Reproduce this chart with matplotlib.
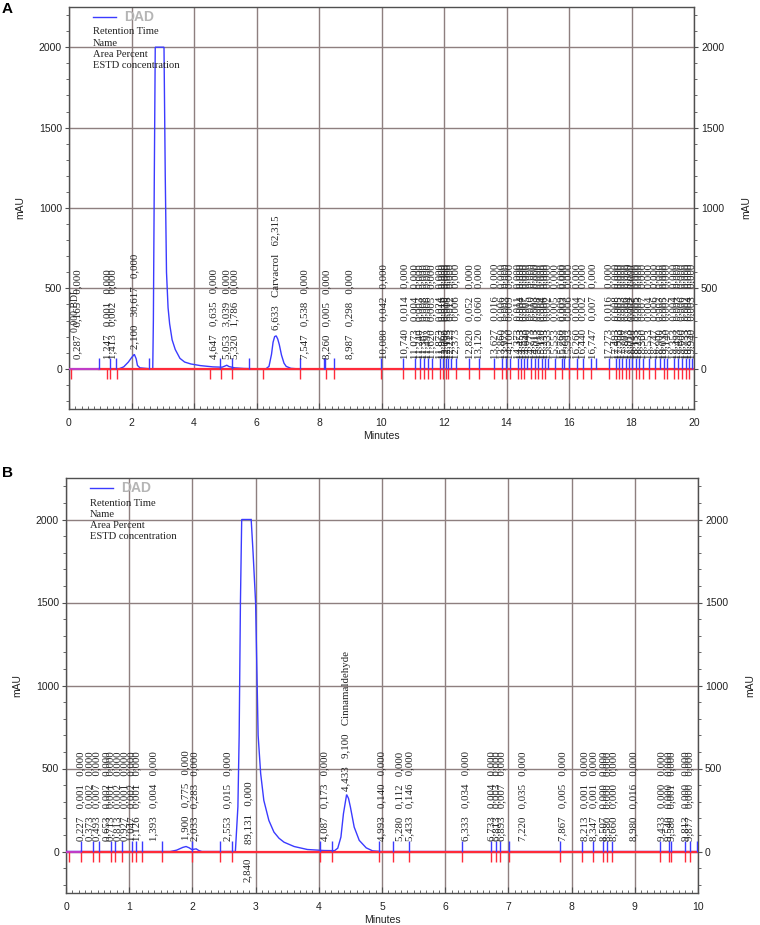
import numpy as np
import matplotlib
matplotlib.use("Agg")
import matplotlib.pyplot as plt
from matplotlib.ticker import MultipleLocator

# ---------------- Panel A : chromatogram (minutes, mAU) ----------------
a_time = [0.00, 1.60, 1.75, 1.90, 2.00, 2.09, 2.15, 2.19, 2.27, 2.60,
          2.68, 2.70, 2.73, 2.76, 3.04, 3.08, 3.12, 3.17, 3.22, 3.30,
          3.40, 3.55, 3.70, 3.90, 4.20, 4.60, 4.90, 5.00, 5.05, 5.12,
          5.30, 5.60, 6.00, 6.30, 6.40, 6.48, 6.53, 6.58, 6.63, 6.68,
          6.73, 6.80, 6.88, 6.95, 7.10, 7.30, 20.0]
a_signal = [0, 0, 12, 42, 69, 90, 62, 21, 6, 0,
            0, 300, 1200, 2000, 2000, 1200, 600, 380, 280, 180,
            120, 65, 42, 30, 20, 12, 10, 18, 22, 14,
            6, 2, 0, 0, 15, 90, 165, 200, 205, 185,
            150, 85, 35, 15, 3, 0, 0]

a_blue_ticks = [0.95, 1.31, 1.50, 2.56, 4.84, 5.22, 5.76, 7.40, 8.15, 8.20, 8.49,
                9.97, 10.68, 11.07, 11.22, 11.35, 11.49, 11.62, 11.87, 11.97, 12.06,
                12.13, 12.21, 12.37, 12.79, 13.11, 13.59, 13.86, 13.97, 14.10, 14.37,
                14.45, 14.55, 14.64, 14.77, 14.91, 15.01, 15.12, 15.23, 15.33, 15.55,
                15.76, 15.83, 15.99, 16.26, 16.44, 16.69, 16.87, 17.27, 17.49, 17.59,
                17.70, 17.81, 17.91, 18.02, 18.13, 18.23, 18.36, 18.55, 18.75, 18.90,
                19.03, 19.14, 19.35, 19.49, 19.60, 19.73, 19.83, 19.94]
a_red_ticks = [0.05, 1.23, 1.31, 1.54, 4.52, 4.87, 5.22, 6.22, 7.40, 8.22, 8.49,
               9.97, 10.68, 11.07, 11.22, 11.35, 11.49, 11.62, 11.87, 11.97, 12.06,
               12.13, 12.37, 12.79, 13.11, 13.59, 13.86, 13.97, 14.10, 14.37, 14.45,
               14.55, 14.77, 14.91, 15.01, 15.12, 15.23, 15.55, 15.76, 15.99, 16.26,
               16.44, 16.69, 17.27, 17.49, 17.59, 17.70, 17.81, 17.91, 18.13, 18.23,
               18.36, 18.55, 18.75, 19.03, 19.14, 19.35, 19.49, 19.60, 19.73, 19.83]

a_peak_rt = [0.287, 1.247, 1.413, 2.100, 4.647, 5.053, 5.320, 6.633, 7.547, 8.260,
             8.987, 10.080, 10.740, 11.073, 11.240, 11.367, 11.493, 11.620, 11.873,
             11.967, 12.060, 12.133, 12.213, 12.373, 12.820, 13.120, 13.627, 13.860,
             13.973, 14.100, 14.373, 14.453, 14.553, 14.640, 14.773, 14.913, 15.013,
             15.120, 15.233, 15.333, 15.553, 15.760, 15.833, 15.993, 16.260, 16.440,
             16.747, 17.273, 17.493, 17.593, 17.700, 17.807, 17.913, 18.020, 18.133,
             18.233, 18.360, 18.553, 18.747, 18.900, 19.033, 19.140, 19.353, 19.493,
             19.600, 19.733, 19.833, 19.940]
a_peak_name = [""] * 7 + ["Carvacrol"] + [""] * 60
a_peak_area = [0.165, 0.001, 0.002, 30.617, 0.635, 3.039, 1.786, 62.315, 0.538, 0.005,
               0.298, 0.042, 0.014, 0.004, 0.003, 0.008, 0.006, 0.005, 0.024,
               0.016, 0.010, 0.008, 0.012, 0.006, 0.052, 0.060, 0.016, 0.006,
               0.003, 0.009, 0.011, 0.004, 0.007, 0.005, 0.010, 0.003, 0.008,
               0.004, 0.006, 0.002, 0.005, 0.009, 0.003, 0.006, 0.004, 0.002,
               0.007, 0.016, 0.008, 0.005, 0.003, 0.006, 0.004, 0.002, 0.005,
               0.003, 0.007, 0.004, 0.006, 0.003, 0.005, 0.002, 0.004, 0.003,
               0.006, 0.002, 0.004, 0.003]
a_peak_estd = [0.0] * 7 + [np.nan] + [0.0] * 60
a_note_rt = [0.20]
a_note_text = ["0,000 BDL"]

# ---------------- Panel B ----------------
b_time = [0.00, 1.65, 1.75, 1.85, 1.90, 1.95, 1.99, 2.03, 2.06, 2.10,
          2.15, 2.66, 2.68, 2.72, 2.74, 2.76, 2.78, 2.93, 2.96, 3.00,
          3.04, 3.08, 3.13, 3.21, 3.29, 3.37, 3.45, 3.61, 3.82, 4.08,
          4.25, 4.30, 4.35, 4.39, 4.44, 4.47, 4.50, 4.56, 4.64, 4.75,
          4.85, 5.00, 10.0]
b_signal = [0, 0, 8, 25, 30, 22, 12, 14, 16, 6,
            0, 0, 0, 270, 700, 1500, 2000, 2000, 1800, 1500,
            700, 470, 308, 187, 117, 80, 56, 30, 12, 6,
            5, 20, 87, 228, 343, 320, 268, 147, 67, 22,
            4, 0, 0]

b_blue_ticks = [0.24, 0.43, 0.53, 0.71, 0.77, 0.88, 1.04, 1.11, 1.20, 1.52, 1.99,
                2.43, 2.62, 4.02, 4.21, 4.96, 5.18, 5.42, 6.27, 6.73, 6.81, 6.87,
                7.01, 7.82, 8.17, 8.34, 8.50, 8.56, 8.64, 9.40, 9.54, 9.58, 9.80,
                9.88, 9.99]
b_red_ticks = [0.05, 0.24, 0.43, 0.53, 0.71, 0.77, 0.88, 1.04, 1.11, 1.20, 1.52,
               1.99, 2.43, 2.62, 4.02, 4.21, 4.96, 5.18, 5.42, 6.27, 6.73, 6.81,
               6.87, 7.01, 7.82, 8.17, 8.34, 8.50, 8.56, 8.64, 9.40, 9.54, 9.58,
               9.80, 9.88]

b_peak_rt = [0.227, 0.373, 0.493, 0.653, 0.713, 0.813, 0.927, 1.047, 1.126, 1.393,
             1.900, 2.033, 2.553, 2.840, 4.087, 4.433, 4.993, 5.280, 5.433, 6.333,
             6.733, 6.813, 6.893, 7.220, 7.867, 8.213, 8.347, 8.507, 8.580, 8.660,
             8.980, 9.433, 9.540, 9.580, 9.813, 9.877]
b_peak_name = [""] * 15 + ["Cinnamaldehyde"] + [""] * 20
b_peak_area = [0.001, 0.002, 0.007, 0.002, 0.001, 0.002, 0.001, 0.002, 0.001, 0.004,
               0.775, 0.283, 0.015, 89.131, 0.173, 9.100, 0.140, 0.112, 0.146, 0.034,
               0.004, 0.003, 0.007, 0.035, 0.005, 0.001, 0.001, 0.000, 0.000, 0.000,
               0.016, 0.000, 0.000, 0.001, 0.000, 0.000]
b_peak_estd = [0.0] * 15 + [np.nan] + [0.0] * 20

legend_lines = ["Retention Time", "Name", "Area Percent", "ESTD concentration"]

# ---------------- styling ----------------
TRACE = "#3b3bff"
RED = "#ff2b3a"
GRID = "#8e7f7f"
SPINE = "#505050"
TXT = "#222222"
SANS = "Liberation Sans"
SERIF = "Liberation Serif"
YMIN, YMAX = -250, 2250
SAT = 2000
SEP = "   "
FIG_W, FIG_H = 760, 925


def fmt(v):
    return f"{v:.3f}".replace(".", ",")


def draw_panel(ax, t, s, blue, red, rts, names, areas, estds, name_first,
               xmax, xmajor, xminor, letter):
    ax.set_xlim(0, xmax)
    ax.set_ylim(YMIN, YMAX)
    ax.xaxis.set_major_locator(MultipleLocator(xmajor))
    ax.xaxis.set_minor_locator(MultipleLocator(xminor))
    ax.yaxis.set_minor_locator(MultipleLocator(100))
    ax.set_yticks([0, 500, 1000, 1500, 2000])
    ax.grid(True, which="major", color=GRID, lw=1.0, zorder=0)
    ax.set_axisbelow(True)
    for sp in ax.spines.values():
        sp.set_color(SPINE)
        sp.set_linewidth(1.0)
    ax.tick_params(axis="y", which="major", direction="out", length=3,
                   left=True, right=True, labelleft=True, labelright=True,
                   labelsize=7.5, labelcolor=TXT, color=SPINE, pad=2)
    ax.tick_params(axis="y", which="minor", direction="out", length=2,
                   left=True, right=True, color=SPINE)
    ax.tick_params(axis="x", which="major", direction="in", length=4,
                   labelsize=7.5, labelcolor=TXT, color=SPINE, pad=6.5)
    ax.tick_params(axis="x", which="minor", direction="in", length=2.5,
                   color=SPINE)
    for lab in ax.get_xticklabels() + ax.get_yticklabels():
        lab.set_family(SANS)
    ax.set_xlabel("Minutes", fontsize=7.5, family=SANS, color=TXT, labelpad=2)
    ax.set_ylabel("mAU", fontsize=7.5, family=SANS, color=TXT, labelpad=10)
    ax.text(1.083, 0.5, "mAU", transform=ax.transAxes, rotation=90,
            ha="center", va="center", fontsize=7.5, family=SANS, color=TXT)

    # trace and integration baseline
    ax.plot(t, s, color=TRACE, lw=1.0, zorder=3, solid_joinstyle="miter")
    ax.plot([blue[0], t[-1]], [0, 0], color=RED, lw=1.6, zorder=4)
    ax.plot([t[0], blue[0]], [0, 0], color="#c03cc8", lw=1.6, zorder=4)
    ax.vlines(blue, 0, 65, color=TRACE, lw=1.0, zorder=5)
    ax.vlines(red, -65, 0, color=RED, lw=1.0, zorder=5)

    # peak annotations
    kw = dict(rotation=90, ha="center", fontsize=7.8, family=SERIF,
              color=TXT, clip_on=True, zorder=6)
    for rt, nm, ar, es in zip(rts, names, areas, estds):
        h = float(np.interp(rt, t, s))
        a_txt = fmt(ar) if not np.isnan(ar) else ""
        e_txt = fmt(es) if not np.isnan(es) else ""
        rest = [nm, a_txt, e_txt] if name_first else [a_txt, nm, e_txt]
        rest = [r for r in rest if r]
        if h >= SAT:
            ax.text(rt + 0.03, -34, fmt(rt), va="top", **kw)
            ax.text(rt + 0.06, 46, SEP.join(rest), va="bottom", **kw)
        else:
            base = max(62, h + 40)
            ax.text(rt, base, SEP.join([fmt(rt)] + rest), va="bottom", **kw)

    # header block (fixed pixel offsets from the axes top)
    pos = ax.get_position()
    h_px = pos.height * FIG_H

    def ypix(d):
        return 1 - d / h_px

    ax.plot([0.038, 0.075], [ypix(10), ypix(10)], transform=ax.transAxes,
            color=TRACE, lw=1.0)
    ax.text(0.088, ypix(10), "DAD", transform=ax.transAxes, ha="left",
            va="center", fontsize=10, fontweight="bold", family=SANS,
            color="#b5b5b5")
    for i, line in enumerate(legend_lines):
        ax.text(0.038, ypix(25 + i * 11.3), line, transform=ax.transAxes,
                ha="left", va="center", fontsize=7.6, family=SERIF, color=TXT)
    top = min(pos.y1 + 12 / FIG_H, 1 - 2 / FIG_H)
    ax.figure.text(2 / FIG_W, top, letter, fontsize=11,
                   fontweight="bold", family=SANS, ha="left", va="top")


fig = plt.figure(figsize=(7.6, 9.25), dpi=100)
axA = fig.add_axes([69 / 760, 1 - 409 / 925, 625 / 760, 402 / 925])
axB = fig.add_axes([66 / 760, 1 - 893 / 925, 632 / 760, 415 / 925])

draw_panel(axA, a_time, a_signal, a_blue_ticks, a_red_ticks, a_peak_rt,
           a_peak_name, a_peak_area, a_peak_estd, True, 20, 2, 0.2, "A")
for x, txt in zip(a_note_rt, a_note_text):
    axA.text(x, 230, txt, rotation=90, ha="center", va="bottom", fontsize=7.0,
             family=SERIF, color=TXT, clip_on=True, zorder=6)

draw_panel(axB, b_time, b_signal, b_blue_ticks, b_red_ticks, b_peak_rt,
           b_peak_name, b_peak_area, b_peak_estd, False, 10, 1, 0.1, "B")

fig.savefig("out.png", dpi=100)
